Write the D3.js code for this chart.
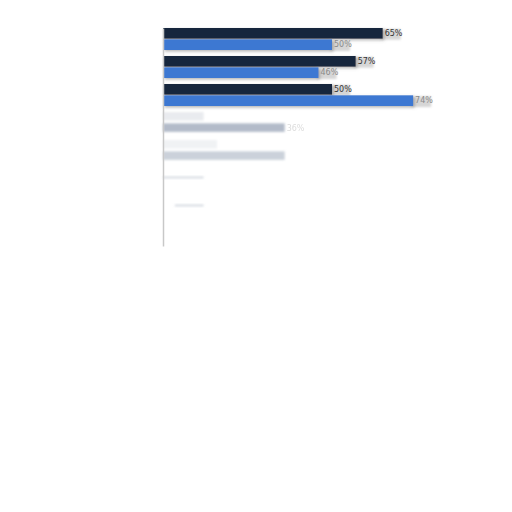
<!DOCTYPE html>
<html>
<head>
<meta charset="utf-8">
<script src="https://cdn.jsdelivr.net/npm/d3@7"></script>
<style>
  body { margin: 0; background: #fff; }
  svg { display: block; }
</style>
</head>
<body>
<div id="chart"></div>
<script>
// chart data
var categories = ["A", "B", "C", "D", "E", "F", "G", "H"];
var seriesNames = ["dark", "blue"];
var darkValues = [65, 57, 50, 12, 16, 12, 12, 0];
var blueValues = [50, 46, 74, 36, 36, 0, 0, 0];

var svgWidth = 512;
var svgHeight = 512;

var colors = { dark: "#17253d", blue: "#3d78d2" };
// how strongly each group shows through (the lower part is washed out)
var groupFade = [1, 1, 1, 0.22, 0.15, 0.08, 0.07, 0];

var svg = d3.select("#chart")
    .append("svg")
    .attr("width", svgWidth)
    .attr("height", svgHeight);

var defs = svg.append("defs");
var shadow = defs.append("filter")
    .attr("id", "shadow")
    .attr("x", "-5%").attr("y", "-40%")
    .attr("width", "115%").attr("height", "200%");
shadow.append("feDropShadow")
    .attr("dx", 1.5)
    .attr("dy", 1.5)
    .attr("stdDeviation", 1.6)
    .attr("flood-color", "#777")
    .attr("flood-opacity", 0.55);

var blur = defs.append("filter").attr("id", "blur")
    .attr("x", "-10%").attr("y", "-60%")
    .attr("width", "120%").attr("height", "220%");
blur.append("feGaussianBlur").attr("stdDeviation", 1.2);

var x = d3.scaleLinear()
    .domain([0, 100])
    .range([163, 501]);

var y0 = d3.scaleBand()
    .domain(categories)
    .range([28, 246])
    .paddingInner(6 / 28)
    .paddingOuter(0);

var y1 = d3.scaleBand()
    .domain(seriesNames)
    .range([0, y0.bandwidth()])
    .paddingInner(0.06);

var rows = categories.map(function(c, i) {
    return {
        cat: c,
        i: i,
        bars: [
            { key: "dark", value: darkValues[i] },
            { key: "blue", value: blueValues[i] }
        ]
    };
});

function isFull(d) { return groupFade[d.i] >= 1; }
function isThin(d) { return groupFade[d.i] < 0.1; }

function barFill(d) {
    if (isFull(d)) return colors[d.key];
    var f = groupFade[d.i] * (d.key === "dark" ? 0.7 : 2.4);
    if (isThin(d)) f = 0.35;
    return d3.interpolateRgb("#ffffff", "#6f7f99")(f);
}

var groups = svg.append("g")
    .selectAll("g")
    .data(rows)
    .enter()
    .append("g")
    .attr("transform", d => `translate(0, ${y0(d.cat)})`);

var bars = groups.selectAll("g.bar")
    .data(d => d.bars.map(b => Object.assign({ i: d.i }, b)))
    .enter()
    .append("g")
    .attr("class", "bar")
    .filter(d => d.value > 0);

// soft grey patch behind each value label
bars.filter(isFull)
    .append("rect")
    .attr("x", d => x(d.value) - 2)
    .attr("y", d => y1(d.key) + 1)
    .attr("width", 20)
    .attr("height", y1.bandwidth())
    .attr("fill", "#d6d6d6")
    .attr("filter", "url(#blur)");

bars.append("rect")
    .attr("x", d => isThin(d) && d.i > 5 ? x(3.5) : x(0))
    .attr("y", d => isThin(d) ? y1(d.key) + y1.bandwidth() - 2 : y1(d.key))
    .attr("width", d => x(d.value) - (isThin(d) && d.i > 5 ? x(3.5) : x(0)))
    .attr("height", d => isFull(d) ? y1.bandwidth() : isThin(d) ? 1.6 : y1.bandwidth() * 0.8)
    .attr("fill", barFill)
    .attr("filter", d => isFull(d) ? "url(#shadow)" : "url(#blur)");

bars.filter(d => d.key === "blue" && groupFade[d.i] >= 0.2 || isFull(d))
    .append("text")
    .attr("x", d => x(d.value) + 2)
    .attr("y", d => y1(d.key) + y1.bandwidth() / 2)
    .attr("dy", "0.35em")
    .attr("font-family", "DejaVu Sans, sans-serif")
    .attr("font-size", 8)
    .attr("fill", d => d.key === "dark" ? "#333" : "#8a8a8a")
    .attr("opacity", d => isFull(d) ? 1 : 0.3)
    .text(d => d.value + "%");

// left axis line, no ticks or labels
var leftAxis = d3.axisLeft(y0).tickSize(0).tickFormat("");
var axisG = svg.append("g")
    .attr("transform", `translate(${x(0)}, 0)`)
    .call(leftAxis);
axisG.select(".domain")
    .attr("stroke", "#c8c8c8")
    .attr("stroke-width", 1.5);
</script>
</body>
</html>
